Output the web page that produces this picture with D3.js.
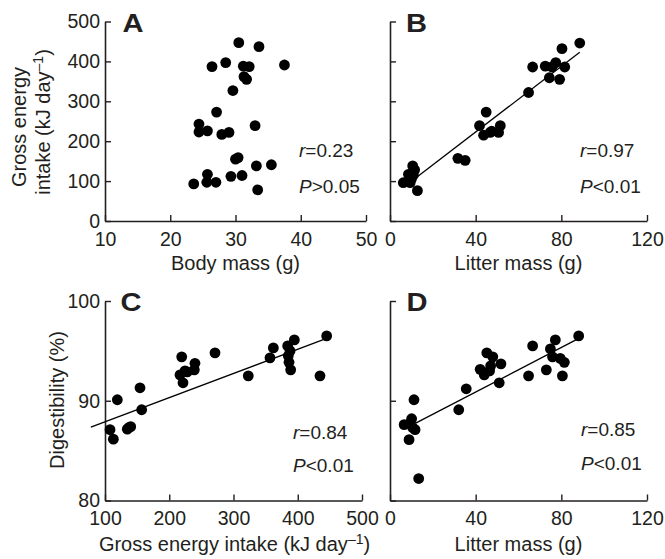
<!DOCTYPE html>
<html>
<head>
<meta charset="utf-8">
<script src="https://cdn.jsdelivr.net/npm/d3@7"></script>
<style>
  html, body { margin: 0; padding: 0; background: #fff; }
  svg { display: block; }
</style>
</head>
<body>
<svg id="chart" width="665" height="559"></svg>
<script>
// ---------------- data ----------------
const panelLetters = ["A", "B", "C", "D"];

const xTicksA = [10, 20, 30, 40, 50];
const yTicksA = [0, 100, 200, 300, 400, 500];
const xTicksB = [0, 40, 80, 120];
const xTicksC = [100, 200, 300, 400, 500];
const yTicksC = [80, 90, 100];

// Panel A: body mass (g) vs gross energy intake (kJ/day)
const bodyMassA = [30.5, 33.6, 26.4, 28.5, 31.2, 32.1, 37.5, 31.3, 31.7, 29.6, 27.1, 24.4, 24.4, 25.7,
                   27.9, 29.0, 33.0, 30.0, 30.4, 33.2, 35.5, 25.7, 25.6, 27.0, 23.6, 29.3, 31.0, 33.4];
const geiA = [447, 437, 387, 397, 388, 387, 391, 362, 355, 327, 273, 243, 223, 226,
              217, 222, 239, 155, 159, 138, 141, 117, 97, 97, 93, 112, 114, 78];

// Panel B: litter mass (g) vs gross energy intake
const litterB = [88.6, 80.3, 66.6, 72.5, 77.4, 75.6, 81.6, 74.4, 79.2, 64.7, 44.9, 41.8, 43.7, 46.8,
                 50.7, 51.5, 31.7, 35.1, 10.6, 8.6, 10.9, 6.2, 9.4, 12.8, 10.0, 11.5, 9.5, 47.5];
const geiB = [446, 432, 386, 388, 397, 386, 386, 359, 355, 322, 273, 239, 215, 222,
              222, 239, 157, 152, 138, 117, 115, 96, 96, 76, 105, 128, 105, 225];

// Panel C: gross energy intake vs digestibility (%)
const geiC = [445, 394.7, 384.3, 362, 356.8, 385.3, 386.4, 389, 434.6, 323, 271.2, 219.4, 240, 239,
              224.5, 216.7, 221.4, 154.5, 119.2, 157.1, 140, 134.7, 107.8, 113, 388, 228, 137];
const digC = [96.5, 96.1, 95.5, 95.3, 94.3, 94.5, 93.85, 93.1, 92.5, 92.5, 94.8, 94.4, 93.75, 93.1,
              93.0, 92.6, 91.8, 91.3, 90.1, 89.1, 87.4, 87.15, 87.1, 86.15, 95.0, 92.9, 87.3];

// Panel D: litter mass vs digestibility
const litterD = [88.1, 77.2, 66.6, 74.9, 75.9, 79.5, 81.4, 73, 80.5, 64.7, 45.2, 48, 51.8, 42.1,
                 46.5, 44, 51, 35.6, 11.2, 32.1, 10.1, 6.6, 10.6, 11.7, 8.9, 13.4, 9.5, 47];
const digD = [96.5, 96.1, 95.5, 95.2, 94.4, 94.25, 93.85, 93.1, 92.5, 92.5, 94.8, 94.4, 93.7, 93.15,
              93.0, 92.6, 91.8, 91.2, 90.1, 89.1, 88.2, 87.6, 87.3, 87.1, 86.1, 82.2, 87.8, 93.5];

// regression lines (end points, data units)
const fitB = [[12, 108], [88.6, 423]];
const fitC = [[78, 87.35], [447, 96.3]];
const fitD = [[12, 87.75], [88.6, 96.3]];

const rValues = ["0.23", "0.97", "0.84", "0.85"];
const pTexts = [">0.05", "<0.01", "<0.01", "<0.01"];

// ---------------- drawing ----------------
const FONT = "'Liberation Sans', Arial, Helvetica, sans-serif";
const INK = "#231f20";
const svg = d3.select("#chart").style("font-family", FONT);

const panels = [
  { letter: panelLetters[0], xs: bodyMassA, ys: geiA, xDom: [10, 50], yDom: [0, 500],
    xRange: [105, 366], yRange: [221, 21.5], xTicks: xTicksA, yTicks: yTicksA, yLabels: true,
    fit: null, statX: 299, rY: 157, pY: 192.5, lx: 122.5, ly: 32 },
  { letter: panelLetters[1], xs: litterB, ys: geiB, xDom: [0, 120], yDom: [0, 500],
    xRange: [390, 647], yRange: [221, 21.5], xTicks: xTicksB, yTicks: yTicksA, yLabels: false,
    fit: fitB, statX: 580, rY: 157, pY: 192.5, lx: 406, ly: 32 },
  { letter: panelLetters[2], xs: geiC, ys: digC, xDom: [100, 500], yDom: [80, 100],
    xRange: [105, 362], yRange: [500.5, 301], xTicks: xTicksC, yTicks: yTicksC, yLabels: true,
    fit: fitC, statX: 293, rY: 439, pY: 471.5, lx: 120.5, ly: 311 },
  { letter: panelLetters[3], xs: litterD, ys: digD, xDom: [0, 120], yDom: [80, 100],
    xRange: [390, 647], yRange: [500.5, 301], xTicks: xTicksB, yTicks: yTicksC, yLabels: false,
    fit: fitD, statX: 581, rY: 435.5, pY: 470, lx: 406.5, ly: 311 }
];

panels.forEach((p, i) => {
  const x = d3.scaleLinear().domain(p.xDom).range(p.xRange);
  const y = d3.scaleLinear().domain(p.yDom).range(p.yRange);
  const g = svg.append("g");

  // y axis
  const yAx = d3.axisLeft(y).tickValues(p.yTicks).tickSizeInner(-6).tickSizeOuter(0).tickPadding(5);
  if (!p.yLabels) yAx.tickFormat("");
  const gy = g.append("g").attr("transform", `translate(${p.xRange[0]},0)`).call(yAx);
  gy.selectAll("text").attr("font-size", 19.5).attr("fill", INK).attr("font-family", FONT);

  // x axis
  const xAx = d3.axisBottom(x).tickValues(p.xTicks).tickSizeInner(-6).tickSizeOuter(0).tickPadding(11);
  const gx = g.append("g").attr("transform", `translate(0,${p.yRange[0]})`).call(xAx);
  gx.selectAll("text").attr("font-size", 19.5).attr("fill", INK).attr("font-family", FONT);

  [gx, gy].forEach(a => {
    a.select(".domain").attr("stroke", INK).attr("stroke-width", 1.6);
    a.selectAll(".tick line").attr("stroke", INK).attr("stroke-width", 1.4);
  });

  // regression line
  if (p.fit) {
    g.append("line")
      .attr("x1", x(p.fit[0][0])).attr("y1", y(p.fit[0][1]))
      .attr("x2", x(p.fit[1][0])).attr("y2", y(p.fit[1][1]))
      .attr("stroke", "#000").attr("stroke-width", 1.3);
  }

  // points
  g.selectAll("circle").data(p.xs.map((v, k) => [v, p.ys[k]]))
    .join("circle")
    .attr("cx", d => x(d[0])).attr("cy", d => y(d[1]))
    .attr("r", 5.4).attr("fill", "#000");

  // panel letter
  g.append("text")
    .attr("transform", `translate(${p.lx},${p.ly}) scale(1.12,1)`)
    .attr("font-size", 26).attr("font-weight", "bold").attr("fill", INK)
    .text(p.letter);

  // stats
  const rt = g.append("text").attr("x", p.statX).attr("y", p.rY).attr("font-size", 19).attr("fill", INK);
  rt.append("tspan").attr("font-style", "italic").text("r");
  rt.append("tspan").text("=" + rValues[i]);
  const pt = g.append("text").attr("x", p.statX).attr("y", p.pY).attr("font-size", 19).attr("fill", INK);
  pt.append("tspan").attr("font-style", "italic").text("P");
  pt.append("tspan").text(pTexts[i]);
});

// axis titles
function supText(sel, before, sup, after) {
  sel.append("tspan").text(before);
  sel.append("tspan").attr("font-size", 14).attr("dy", -7).text(sup);
  sel.append("tspan").attr("dy", 7).text(after);
}

const TS = 20;
svg.append("text").attr("x", 235.5).attr("y", 270).attr("text-anchor", "middle")
  .attr("font-size", TS).attr("fill", INK).text("Body mass (g)");
svg.append("text").attr("x", 518.5).attr("y", 270).attr("text-anchor", "middle")
  .attr("font-size", TS).attr("fill", INK).text("Litter mass (g)");
supText(svg.append("text").attr("x", 234.5).attr("y", 550.5).attr("text-anchor", "middle")
  .attr("font-size", TS).attr("fill", INK), "Gross energy intake (kJ day", "–1", ")");
svg.append("text").attr("x", 518.5).attr("y", 550.5).attr("text-anchor", "middle")
  .attr("font-size", TS).attr("fill", INK).text("Litter mass (g)");

svg.append("text").attr("transform", "translate(26,127) rotate(-90)").attr("text-anchor", "middle")
  .attr("font-size", TS).attr("fill", INK).text("Gross energy");
supText(svg.append("text").attr("transform", "translate(50,122) rotate(-90)").attr("text-anchor", "middle")
  .attr("font-size", TS).attr("fill", INK), "intake (kJ day", "–1", ")");
svg.append("text").attr("transform", "translate(63.5,400) rotate(-90)").attr("text-anchor", "middle")
  .attr("font-size", TS).attr("fill", INK).text("Digestibility (%)");
</script>
</body>
</html>
